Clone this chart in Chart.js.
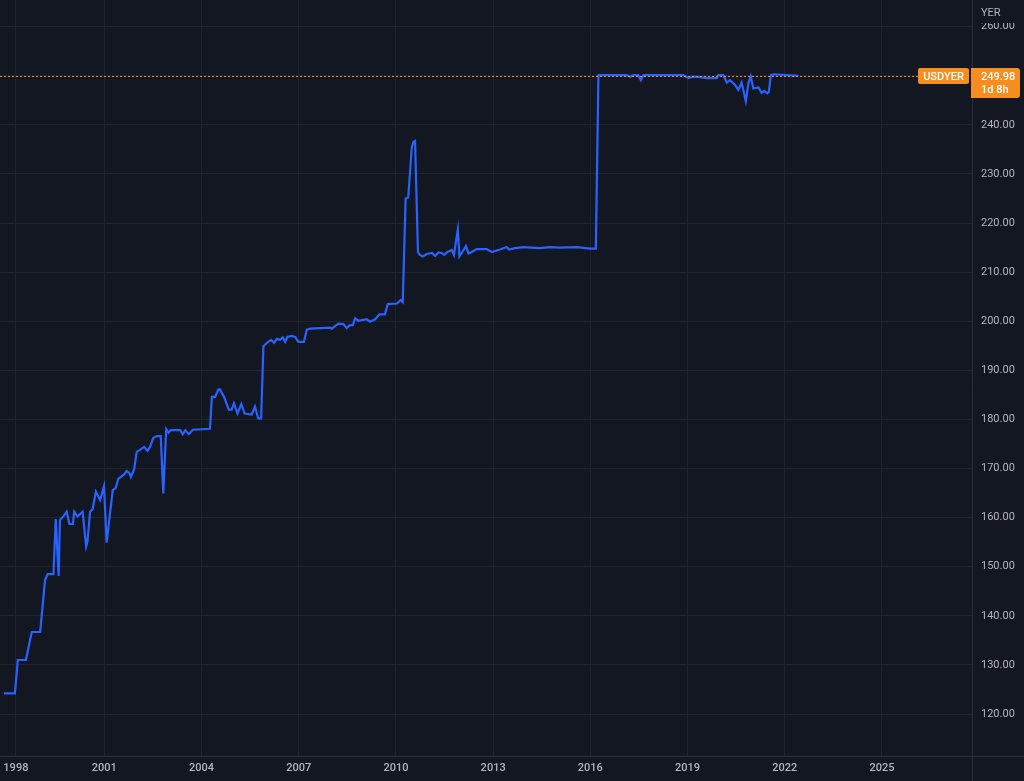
<!DOCTYPE html>
<html>
<head>
<meta charset="utf-8">
<title>USDYER</title>
<script src="https://cdn.jsdelivr.net/npm/chart.js@4.4.1/dist/chart.umd.min.js"></script>
<style>
  html, body { margin: 0; padding: 0; background: #131722; }
</style>
</head>
<body>
<canvas id="usdyer" width="1024" height="781"></canvas>
<script>
// USD / YER (decimal years)
const years = [
  1997.90, 1998.24, 1998.33, 1998.58, 1998.76, 1999.02, 1999.17, 1999.25, 1999.43, 1999.50,
  1999.59, 1999.63, 1999.74, 1999.84, 1999.92, 2000.03, 2000.07, 2000.17, 2000.33, 2000.44,
  2000.48, 2000.56, 2000.64, 2000.74, 2000.87, 2000.99, 2001.07, 2001.26, 2001.35, 2001.43,
  2001.61, 2001.69, 2001.77, 2001.82, 2001.92, 2002.00, 2002.10, 2002.23, 2002.33, 2002.41,
  2002.51, 2002.62, 2002.74, 2002.82, 2002.91, 2002.98, 2003.05, 2003.34, 2003.42, 2003.50,
  2003.61, 2003.73, 2004.26, 2004.32, 2004.42, 2004.52, 2004.57, 2004.70, 2004.84, 2004.93,
  2005.00, 2005.11, 2005.23, 2005.33, 2005.55, 2005.65, 2005.75, 2005.84, 2005.91, 2006.02,
  2006.15, 2006.24, 2006.33, 2006.42, 2006.51, 2006.58, 2006.65, 2006.78, 2006.89, 2006.99,
  2007.16, 2007.25, 2007.35, 2007.97, 2008.02, 2008.22, 2008.38, 2008.48, 2008.58, 2008.67,
  2008.74, 2008.84, 2009.10, 2009.20, 2009.36, 2009.49, 2009.66, 2009.75, 2010.03, 2010.15,
  2010.21, 2010.30, 2010.38, 2010.49, 2010.54, 2010.59, 2010.68, 2010.74, 2010.83, 2010.95,
  2011.11, 2011.21, 2011.31, 2011.41, 2011.49, 2011.59, 2011.72, 2011.79, 2011.91, 2011.96,
  2012.03, 2012.16, 2012.24, 2012.34, 2012.49, 2012.80, 2012.96, 2013.21, 2013.42, 2013.49,
  2013.68, 2013.93, 2014.45, 2014.76, 2015.07, 2015.58, 2015.99, 2016.17, 2016.25, 2017.12,
  2017.23, 2017.33, 2017.48, 2017.56, 2017.64, 2018.87, 2019.03, 2019.18, 2019.39, 2019.59,
  2019.90, 2019.95, 2020.11, 2020.21, 2020.31, 2020.47, 2020.57, 2020.67, 2020.80, 2020.88,
  2020.95, 2021.03, 2021.19, 2021.29, 2021.37, 2021.46, 2021.51, 2021.57, 2021.65, 2022.42
];
const rates = [
  124.2, 124.2, 131.0, 131.0, 136.7, 136.7, 147.3, 148.5, 148.5, 159.7,
  148.1, 159.5, 160.3, 161.2, 158.7, 158.7, 161.2, 160.2, 161.2, 154.1,
  155.1, 161.2, 161.7, 165.3, 163.6, 166.4, 154.9, 165.6, 166.0, 167.9,
  168.8, 169.5, 169.1, 168.3, 169.8, 173.4, 173.8, 174.4, 173.6, 174.4,
  176.2, 176.6, 176.6, 164.9, 178.0, 177.3, 177.8, 177.8, 177.0, 177.8,
  177.0, 177.9, 178.1, 184.6, 184.6, 186.1, 186.1, 184.5, 182.0, 182.0,
  183.3, 181.2, 183.1, 181.2, 181.0, 182.6, 180.2, 180.2, 194.9, 195.6,
  196.2, 195.6, 196.4, 196.2, 196.7, 195.8, 196.8, 197.0, 196.8, 195.8,
  195.8, 198.3, 198.5, 198.7, 198.5, 199.5, 199.4, 198.6, 199.2, 199.2,
  200.6, 200.1, 200.4, 199.9, 200.4, 201.4, 201.4, 203.5, 203.6, 204.3,
  203.9, 225.0, 225.2, 235.5, 236.5, 236.7, 214.1, 213.5, 213.2, 213.7,
  213.9, 213.3, 214.0, 213.9, 213.5, 214.1, 214.5, 213.5, 218.7, 213.2,
  213.9, 215.3, 213.8, 214.1, 214.7, 214.7, 214.1, 214.6, 215.1, 214.6,
  214.9, 215.1, 214.9, 215.1, 215.0, 215.1, 214.8, 214.8, 250.1, 250.1,
  249.8, 250.1, 250.1, 249.1, 250.1, 250.1, 249.5, 249.8, 249.7, 249.5,
  249.5, 250.1, 250.1, 248.6, 249.1, 248.1, 247.1, 248.6, 244.8, 248.5,
  249.9, 247.4, 247.6, 246.5, 246.9, 246.4, 246.7, 250.1, 250.3, 249.98
];

// TradingView squeezes the early bars, so the 1998 mark sits a bit right of Jan 1998
const yearTicks = [1998.27, 2001, 2004, 2007, 2010, 2013, 2016, 2019, 2022, 2025];
const yearLabels = ['1998', '2001', '2004', '2007', '2010', '2013', '2016', '2019', '2022', '2025'];
const rateTicks = [120, 130, 140, 150, 160, 170, 180, 190, 200, 210, 220, 230, 240, 250, 260];

const symbol = 'USDYER';
const currency = 'YER';
const lastRate = 249.98;
const countdown = '1d 8h';

const BG = '#131722';
const GRID = '#1f2330';
const FRAME = '#2a2e39';
const TEXT = '#b2b5be';
const ORANGE = '#f68d1f';
const FONT = 'Roboto, "Liberation Sans", sans-serif';

const tvFrame = {
  id: 'tvFrame',
  beforeDraw(chart) {
    const c = chart.ctx;
    c.save();
    c.fillStyle = BG;
    c.fillRect(0, 0, chart.width, chart.height);
    c.restore();
  },
  afterDatasetsDraw(chart) {
    const c = chart.ctx, a = chart.chartArea;
    const py = Math.round(chart.scales.y.getPixelForValue(lastRate)) + 0.5;
    c.save();
    c.strokeStyle = ORANGE;
    c.lineWidth = 1;
    c.setLineDash([2, 2]);
    c.beginPath();
    c.moveTo(a.left, py);
    c.lineTo(a.right - 54, py);
    c.stroke();
    c.restore();
  },
  afterDraw(chart) {
    const c = chart.ctx, a = chart.chartArea;
    const W = chart.width, H = chart.height;
    c.save();
    // frame lines
    c.strokeStyle = FRAME;
    c.lineWidth = 1;
    c.beginPath();
    c.moveTo(0, a.bottom + 0.5); c.lineTo(W, a.bottom + 0.5);
    c.moveTo(a.right + 0.5, 0); c.lineTo(a.right + 0.5, H);
    c.stroke();

    // currency label at top of the price scale (hides the top of 260.00)
    c.fillStyle = BG;
    c.fillRect(a.right + 1, 0, W - a.right - 1, 23);
    c.fillStyle = TEXT;
    c.font = '11px ' + FONT;
    c.textBaseline = 'middle';
    c.textAlign = 'left';
    c.fillText(currency, a.right + 9, 13);

    // last price boxes
    const py = Math.round(chart.scales.y.getPixelForValue(lastRate));
    c.fillStyle = ORANGE;
    c.beginPath();
    c.roundRect(a.right - 54, py - 8, 51, 16, 2);
    c.fill();
    c.beginPath();
    c.roundRect(a.right - 1, py - 8, 49, 30, [0, 3, 3, 0]);
    c.fill();
    c.fillStyle = '#ffffff';
    c.font = '500 11px ' + FONT;
    c.textAlign = 'center';
    c.fillText(symbol, a.right - 28.5, py + 1);
    c.textAlign = 'left';
    c.fillText(lastRate.toFixed(2), a.right + 9, py + 1);
    c.fillText(countdown, a.right + 9, py + 14);
    c.restore();
  }
};

new Chart(document.getElementById('usdyer'), {
  type: 'line',
  data: {
    datasets: [{
      data: years.map((x, i) => ({ x: x, y: rates[i] })),
      borderColor: '#2962ff',
      borderWidth: 2.2,
      pointRadius: 0,
      tension: 0,
      fill: false
    }]
  },
  options: {
    responsive: false,
    animation: false,
    devicePixelRatio: 1,
    layout: { padding: 0 },
    plugins: { legend: { display: false }, tooltip: { enabled: false } },
    scales: {
      x: {
        type: 'linear',
        min: 1997.78,
        max: 2027.78,
        afterBuildTicks: s => { s.ticks = yearTicks.map(v => ({ value: v })); },
        afterFit: s => { s.height = 25; s.paddingLeft = 0; s.paddingRight = 0; },
        ticks: {
          autoSkip: false,
          maxRotation: 0,
          padding: 6,
          color: TEXT,
          font: { family: FONT, size: 11, weight: '500' },
          callback: (v, i) => yearLabels[i]
        },
        grid: { color: GRID, drawTicks: false },
        border: { display: false }
      },
      y: {
        type: 'linear',
        position: 'right',
        min: 111.45,
        max: 265.42,
        afterBuildTicks: s => { s.ticks = rateTicks.map(v => ({ value: v })); },
        afterFit: s => { s.width = 52; s.paddingTop = 0; s.paddingBottom = 0; },
        ticks: {
          padding: 9,
          color: TEXT,
          font: { family: FONT, size: 11 },
          callback: v => v.toFixed(2)
        },
        grid: { color: GRID, drawTicks: false },
        border: { display: false }
      }
    }
  },
  plugins: [tvFrame]
});
</script>
</body>
</html>
